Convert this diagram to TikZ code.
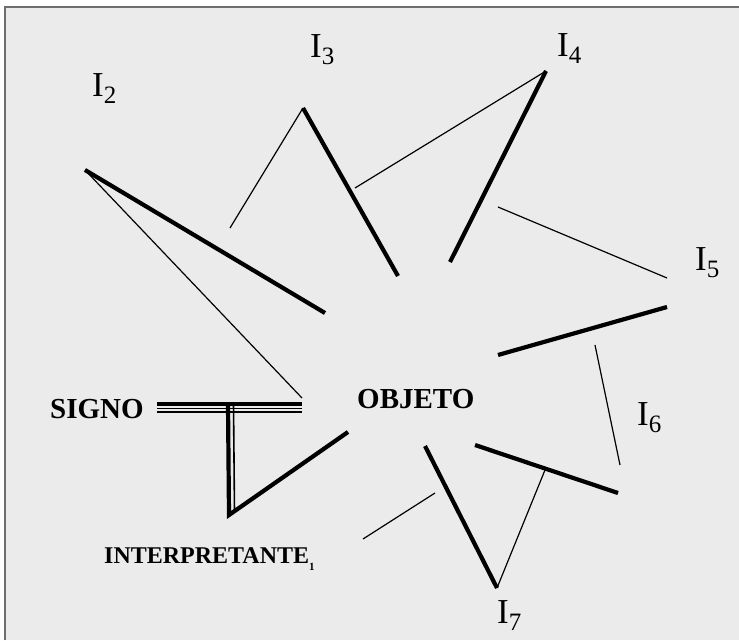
\documentclass[tikz,border=0pt]{standalone}
\usepackage{fontspec}
\setmainfont{Liberation Serif}
\definecolor{panel}{HTML}{EBEBEB}
\definecolor{edge}{HTML}{6E6E6E}
\newcommand{\Ilab}[1]{I\raisebox{-0.22em}{\fontsize{25}{25}\selectfont #1}}

\begin{document}
\begin{tikzpicture}[x=1pt, y=-1pt, every node/.style={inner sep=0pt, anchor=base west},
      ilabel/.style={font=\fontsize{35}{35}\selectfont},
      term/.style={font=\fontsize{29}{29}\selectfont\bfseries},
      heavy/.style={line width=4.2pt},
      light/.style={line width=1.2pt}]
    \useasboundingbox (0,0) rectangle (739,640);
    \fill[white] (0,0) rectangle (739,640);
    \fill[panel] (5,7) rectangle (739,640);
    \draw[edge, line width=2.5pt] (5,640) -- (5,7) -- (739,7);
    % labels
    \node[term] (signo) at (50,418) {SIGNO};
    \node[term] (objeto) at (357,408) {OBJETO};
    \node[term, font=\fontsize{24}{24}\selectfont\bfseries] (interp) at (104,563) {INTERPRETANTE\raisebox{-0.3em}{\fontsize{11}{11}\selectfont 1}};
    \node[ilabel] (i2) at (92,96) {\Ilab{2}};
    \node[ilabel] (i3) at (310,57) {\Ilab{3}};
    \node[ilabel] (i4) at (557,56) {\Ilab{4}};
    \node[ilabel] (i5) at (695,270) {\Ilab{5}};
    \node[ilabel] (i6) at (637,425) {\Ilab{6}};
    \node[ilabel] (i7) at (497,623) {\Ilab{7}};
    % points of the star
    \coordinate (p2) at (85,170);   \coordinate (q2) at (325,313);  \coordinate (r2) at (302,398);
    \coordinate (p3) at (303,108);  \coordinate (q3) at (398,276);  \coordinate (r3) at (230,228);
    \coordinate (m3) at (355,188);
    \coordinate (p4) at (546,71);   \coordinate (q4) at (450,262);
    \coordinate (p5) at (667,307);  \coordinate (q5) at (498,355);
    \coordinate (r5) at (498,207);  \coordinate (s5) at (667,278);
    \coordinate (p6) at (618,493);  \coordinate (q6) at (475,445);
    \coordinate (r6) at (595,345);  \coordinate (s6) at (620,465);
    \coordinate (m6) at (545,470);
    \coordinate (p7) at (497,588);  \coordinate (q7) at (425,446);
    \coordinate (r7) at (435,493);  \coordinate (s7) at (363,539);
    \coordinate (s1) at (157,404);  \coordinate (s2) at (302,404);
    \coordinate (t1) at (228,404);  \coordinate (t2) at (229,515);
    \coordinate (o1) at (348,432);
    % interpretants
    \draw[heavy] (q2) -- (p2); \draw[light] (p2) -- (r2);
    \draw[light] (r3) -- (p3); \draw[heavy] (p3) -- (q3);
    \draw[light] (m3) -- (p4); \draw[heavy] (p4) -- (q4);
    \draw[light] (r5) -- (s5); \draw[heavy] (q5) -- (p5);
    \draw[light] (r6) -- (s6); \draw[heavy] (q6) -- (p6);
    \draw[light] (m6) -- (p7); \draw[heavy] (q7) -- (p7);
    \draw[light] (r7) -- (s7);
    % sign and first interpretant
    \draw[line width=3.4pt] (s1) -- (s2);
    \draw[line width=1.6pt] ([yshift=-4.5pt]s1) -- ([yshift=-4.5pt]s2);
    \draw[line width=1.6pt] ([yshift=-8pt]s1) -- ([yshift=-8pt]s2);
    \draw[heavy] (t1) -- (t2) -- (o1);
    \draw[line width=1.6pt] ([xshift=5.5pt]t1) -- ([xshift=5.5pt,yshift=3pt]t2);
  \end{tikzpicture}
\end{document}
